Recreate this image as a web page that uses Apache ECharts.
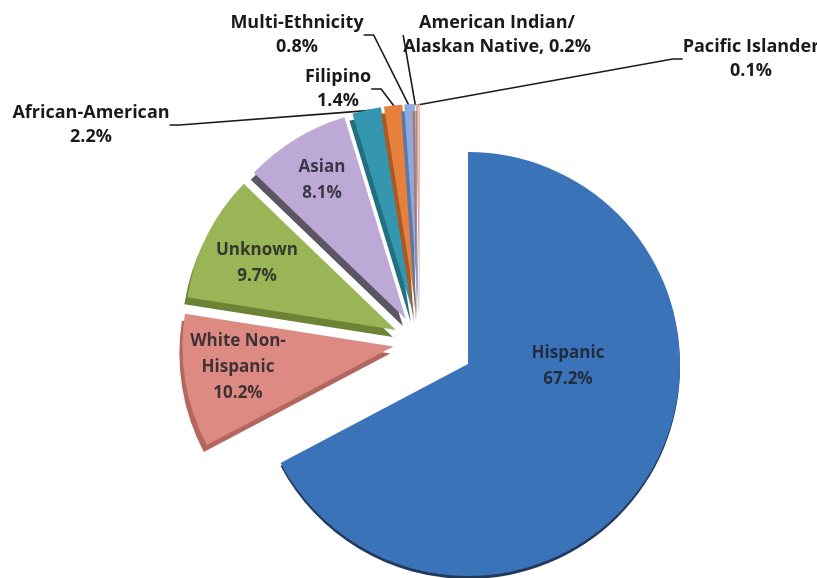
<!DOCTYPE html>
<html>
<head>
<meta charset="utf-8">
<script src="https://cdn.jsdelivr.net/npm/echarts@6/dist/echarts.min.js"></script>
<style>
  html, body { margin: 0; padding: 0; background: #ffffff; }
  #chart { width: 817px; height: 578px; }
</style>
</head>
<body>
<div id="chart"></div>
<script>
// Student enrollment by ethnicity (percent of total)
const categories = [
  'Hispanic', 'White Non-Hispanic', 'Unknown', 'Asian', 'African-American',
  'Filipino', 'Multi-Ethnicity', 'American Indian/Alaskan Native', 'Pacific Islander'
];
const shares = [67.2, 10.2, 9.7, 8.1, 2.2, 1.4, 0.8, 0.2, 0.1];

// How each category name is broken over lines in its label, and what joins name and value
const labelNames = [
  'Hispanic', 'White Non-\nHispanic', 'Unknown', 'Asian', 'African-American',
  'Filipino', 'Multi-Ethnicity', 'American Indian/\nAlaskan Native', 'Pacific Islander'
];
const labelJoins = ['\n', '\n', '\n', '\n', '\n', '\n', '\n', ', ', '\n'];

// Styling
const faceColors = ['#3B73B9', '#DD8B82', '#99B555', '#BDA9D5', '#3497AF', '#E6803C', '#8DA9DD', '#E2A79E', '#D9B3AB'];
const sideColors = ['#22395C', '#B3675E', '#6C8335', '#5B5564', '#22707F', '#A85A26', '#5C77A8', '#A87670', '#A88580'];
const insideLabel = [true, true, true, true, false, false, false, false, false];

// Label anchor points (centre of the text block) in pixels
const labelSpots = [
  [568, 366], [238, 367], [257, 263], [322, 180], [91, 125],
  [338, 89], [297, 35], [497, 35], [751, 59]
];

const FONT = '"Open Sans", Lato, sans-serif';
const hidden = 'rgba(0,0,0,0)';

function labelText(i) {
  return labelNames[i] + labelJoins[i] + shares[i].toFixed(1) + '%';
}

function hiddenItem(name, i) {
  return {
    name: name,
    value: shares[i],
    itemStyle: { color: hidden, borderWidth: 0, shadowColor: hidden },
    label: { show: false },
    labelLine: { show: false }
  };
}

// Wedges: the large slice sits on its own; the rest are pulled out of the pie
function wedgeData(mainOnly) {
  return categories.map(function (name, i) {
    const visible = mainOnly ? i === 0 : i !== 0;
    if (!visible) return hiddenItem(name, i);
    return {
      name: name,
      value: shares[i],
      selected: !mainOnly,
      itemStyle: {
        color: faceColors[i],
        borderWidth: 0,
        shadowColor: sideColors[i],
        shadowBlur: 0,
        shadowOffsetX: i === 0 ? 0 : -3,
        shadowOffsetY: i === 0 ? 3 : 7
      },
      label: { show: false },
      labelLine: { show: false }
    };
  });
}

// Labels and leader lines, carried by an invisible copy of the pie
function labelData() {
  return categories.map(function (name, i) {
    return {
      name: name,
      value: shares[i],
      itemStyle: { color: hidden, borderWidth: 0 },
      label: {
        show: true,
        position: insideLabel[i] ? 'inside' : 'outside',
        formatter: labelText(i),
        color: insideLabel[i] ? 'rgba(28,28,38,0.82)' : '#1a1a1a',
        fontFamily: FONT,
        fontWeight: 'bold',
        fontSize: insideLabel[i] ? 17 : 18,
        lineHeight: insideLabel[i] ? 26 : 24,
        align: 'center'
      },
      labelLine: {
        show: !insideLabel[i],
        length: 10,
        length2: 10,
        lineStyle: { color: '#1a1a1a', width: 1.6 }
      }
    };
  });
}

function placeLabel(params) {
  const spot = labelSpots[params.dataIndex];
  if (!spot) return {};
  return { x: spot[0], y: spot[1], align: 'center', verticalAlign: 'middle' };
}

const common = {
  type: 'pie',
  radius: [0, 211],
  startAngle: 90,
  clockwise: true,
  avoidLabelOverlap: false,
  silent: true,
  animation: false,
  emphasis: { disabled: true }
};

const chart = echarts.init(document.getElementById('chart'), null, { renderer: 'canvas' });
chart.setOption({
  backgroundColor: '#ffffff',
  animation: false,
  series: [
    Object.assign({}, common, {
      name: 'main',
      center: [468, 364],
      radius: [0, 212],
      data: wedgeData(true)
    }),
    Object.assign({}, common, {
      name: 'rest',
      center: [420, 342],
      selectedMode: 'multiple',
      selectedOffset: 27,
      data: wedgeData(false)
    }),
    Object.assign({}, common, {
      name: 'labels',
      center: [418, 316],
      labelLayout: placeLabel,
      data: labelData()
    })
  ]
});
</script>
</body>
</html>
